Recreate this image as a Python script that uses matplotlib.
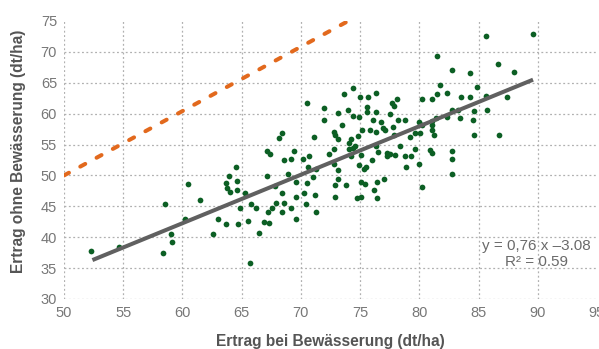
import matplotlib
matplotlib.use("Agg")
import matplotlib.pyplot as plt

# yield with irrigation (x) vs. without irrigation (y), dt/ha
ertrag_mit = [
    52.3, 54.65, 58.56, 59.0, 59.15, 58.4,
    68.16, 68.4, 67.1, 67.4, 69.4, 68.6, 69.2, 70.16, 64.5, 63.9, 67.15, 68.9,
    60.45, 63.66, 64.64, 63.8, 64.05, 64.64, 65.3, 61.46, 67.8, 69.6, 68.4, 69.6,
    64.9, 65.8, 66.2, 67.9, 68.6, 67.6, 67.2, 68.4, 69.2, 60.2, 63.0, 63.66,
    64.7, 65.5, 66.9, 67.3, 69.6, 62.56, 66.45, 65.7,
    74.4, 73.6, 75.0, 75.7, 76.3, 78.1, 70.5, 77.7, 77.9, 75.6, 75.6, 71.96,
    73.96, 73.1, 76.3, 74.4, 74.9, 77.5, 71.96, 76.1, 76.8, 78.2, 78.8, 73.5,
    77.75, 76.9, 77.1, 75.2, 75.8, 76.3, 72.8, 72.9, 73.1, 71.1, 74.8, 77.9,
    79.2, 79.6, 74.2, 74.1, 74.6, 76.3, 72.8, 74.1, 74.4, 78.4, 79.6, 72.4,
    74.2, 75.1, 76.5, 77.25, 77.5, 77.95, 77.25, 78.8, 79.3, 70.7, 76.0, 70.6,
    71.3, 72.8, 73.1, 74.9, 75.5, 75.3, 78.9, 71.0, 73.1, 77.0,
    70.5, 72.9, 73.8, 75.1, 75.4, 76.4, 70.27, 71.2, 72.9, 74.7, 75.1, 76.2,
    76.4, 70.4, 71.3,
    85.6, 89.6, 81.5, 86.65, 88.0, 82.8, 84.3, 81.75, 84.85, 82.3, 81.5, 80.2,
    81.1, 83.5, 84.3, 85.6, 87.4, 82.8, 83.3, 84.6, 85.75, 81.4, 82.3, 83.4,
    84.5, 79.96, 80.2, 81.05, 81.05, 80.07, 81.05, 81.2, 84.6, 86.7,
    80.9, 81.1, 82.8, 82.8, 80.0, 82.8, 80.2,
]
ertrag_ohne = [
    37.7, 38.4, 45.4, 40.5, 39.3, 37.5,
    56.1, 56.8, 54.0, 53.5, 54.0, 52.5, 52.7, 52.6, 51.4, 49.9, 49.9, 50.3,
    48.55, 48.8, 49.1, 47.9, 47.4, 47.6, 47.15, 46.0, 48.3, 48.9, 47.15, 46.5,
    44.8, 45.4, 44.8, 45.6, 45.6, 44.8, 44.1, 44.1, 44.8, 43.0, 43.0, 42.1,
    42.1, 42.7, 42.5, 42.25, 43.0, 40.5, 40.7, 35.85,
    64.1, 63.2, 62.7, 62.7, 63.4, 62.4, 61.8, 61.8, 61.3, 61.1, 60.3, 60.9,
    60.6, 60.1, 60.3, 59.7, 59.45, 59.9, 58.9, 59.0, 58.65, 59.0, 58.9, 58.2,
    57.9, 57.7, 57.3, 57.3, 57.3, 57.0, 57.0, 56.5, 55.9, 56.3, 56.4, 56.5,
    56.3, 56.8, 55.9, 55.2, 54.7, 54.8, 54.2, 54.2, 54.4, 54.7, 54.2, 53.4,
    53.1, 53.3, 53.8, 53.6, 53.5, 53.3, 53.1, 53.1, 53.2, 53.1, 52.5, 51.3,
    51.0, 51.8, 50.85, 51.7, 51.4, 51.0, 51.4, 49.8, 49.45, 49.45,
    48.75, 48.5, 48.5, 49.0, 48.55, 48.97, 47.2, 46.8, 46.5, 46.3, 46.5, 47.7,
    46.3, 45.4, 44.1,
    72.5, 72.9, 69.3, 68.1, 66.8, 67.0, 66.55, 64.7, 64.3, 63.4, 63.2, 62.4,
    62.4, 62.7, 62.7, 62.9, 62.7, 60.6, 60.65, 60.4, 60.6, 59.3, 59.5, 59.3,
    58.9, 58.7, 58.2, 58.75, 58.2, 56.8, 57.3, 56.5, 56.5, 56.5,
    54.1, 53.6, 54.0, 52.6, 51.9, 50.3, 48.1,
]

# regression line end points and 1:1 reference line
fit_x = [52.4, 89.6]
fit_y = [36.3, 65.5]
ref_x = [50, 74]
ref_y = [50, 75]

x_ticks = [50, 55, 60, 65, 70, 75, 80, 85, 90, 95]
y_ticks = [30, 35, 40, 45, 50, 55, 60, 65, 70, 75]

fig = plt.figure(figsize=(5.99, 3.49), dpi=100)
ax = fig.add_axes([64 / 599, 1 - 299 / 349, 533 / 599, 278 / 349])

ax.plot(ref_x, ref_y, color="#e2691d", linewidth=2.9, dashes=(1.4, 3.2),
        dash_capstyle="round", zorder=3)
ax.scatter(ertrag_mit, ertrag_ohne, s=17, color="#0c5f24", linewidths=0, zorder=2)
ax.plot(fit_x, fit_y, color="#606060", linewidth=2.9, solid_capstyle="butt", zorder=4)

ax.text(89.86, 38.55, "y = 0,76 x \u20133.08", ha="center", va="center",
        fontsize=11, color="#6a6a6a", family="Liberation Sans")
ax.text(89.86, 35.97, "R\u00b2 = 0.59", ha="center", va="center",
        fontsize=11, color="#6a6a6a", family="Liberation Sans")

ax.set_xlim(50, 95)
ax.set_ylim(30, 75)
ax.set_xticks(x_ticks)
ax.set_yticks(y_ticks)
for s in ax.spines.values():
    s.set_visible(False)
ax.tick_params(length=0, labelsize=10.5, labelcolor="#777777", pad=5)
for lab in ax.get_xticklabels() + ax.get_yticklabels():
    lab.set_family("Liberation Sans")
ax.grid(True, color="#b0b0b0", linestyle=(0, (1.5, 2)), linewidth=0.9)
ax.set_axisbelow(True)
ax.xaxis.get_major_ticks()[-1].gridline.set_visible(False)
ax.yaxis.get_major_ticks()[-1].gridline.set_visible(False)

fig.text(330 / 599, 1 - 341.7 / 349, "Ertrag bei Bewässerung (dt/ha)",
         ha="center", va="center", fontsize=11.2, fontweight="bold",
         color="#555555", family="Liberation Sans")
fig.text(18.5 / 599, 1 - 151 / 349, "Ertrag ohne Bewässerung (dt/ha)",
         ha="center", va="center", rotation=90, fontsize=11.2, fontweight="bold",
         color="#555555", family="Liberation Sans")

fig.savefig("out.png", dpi=100)
